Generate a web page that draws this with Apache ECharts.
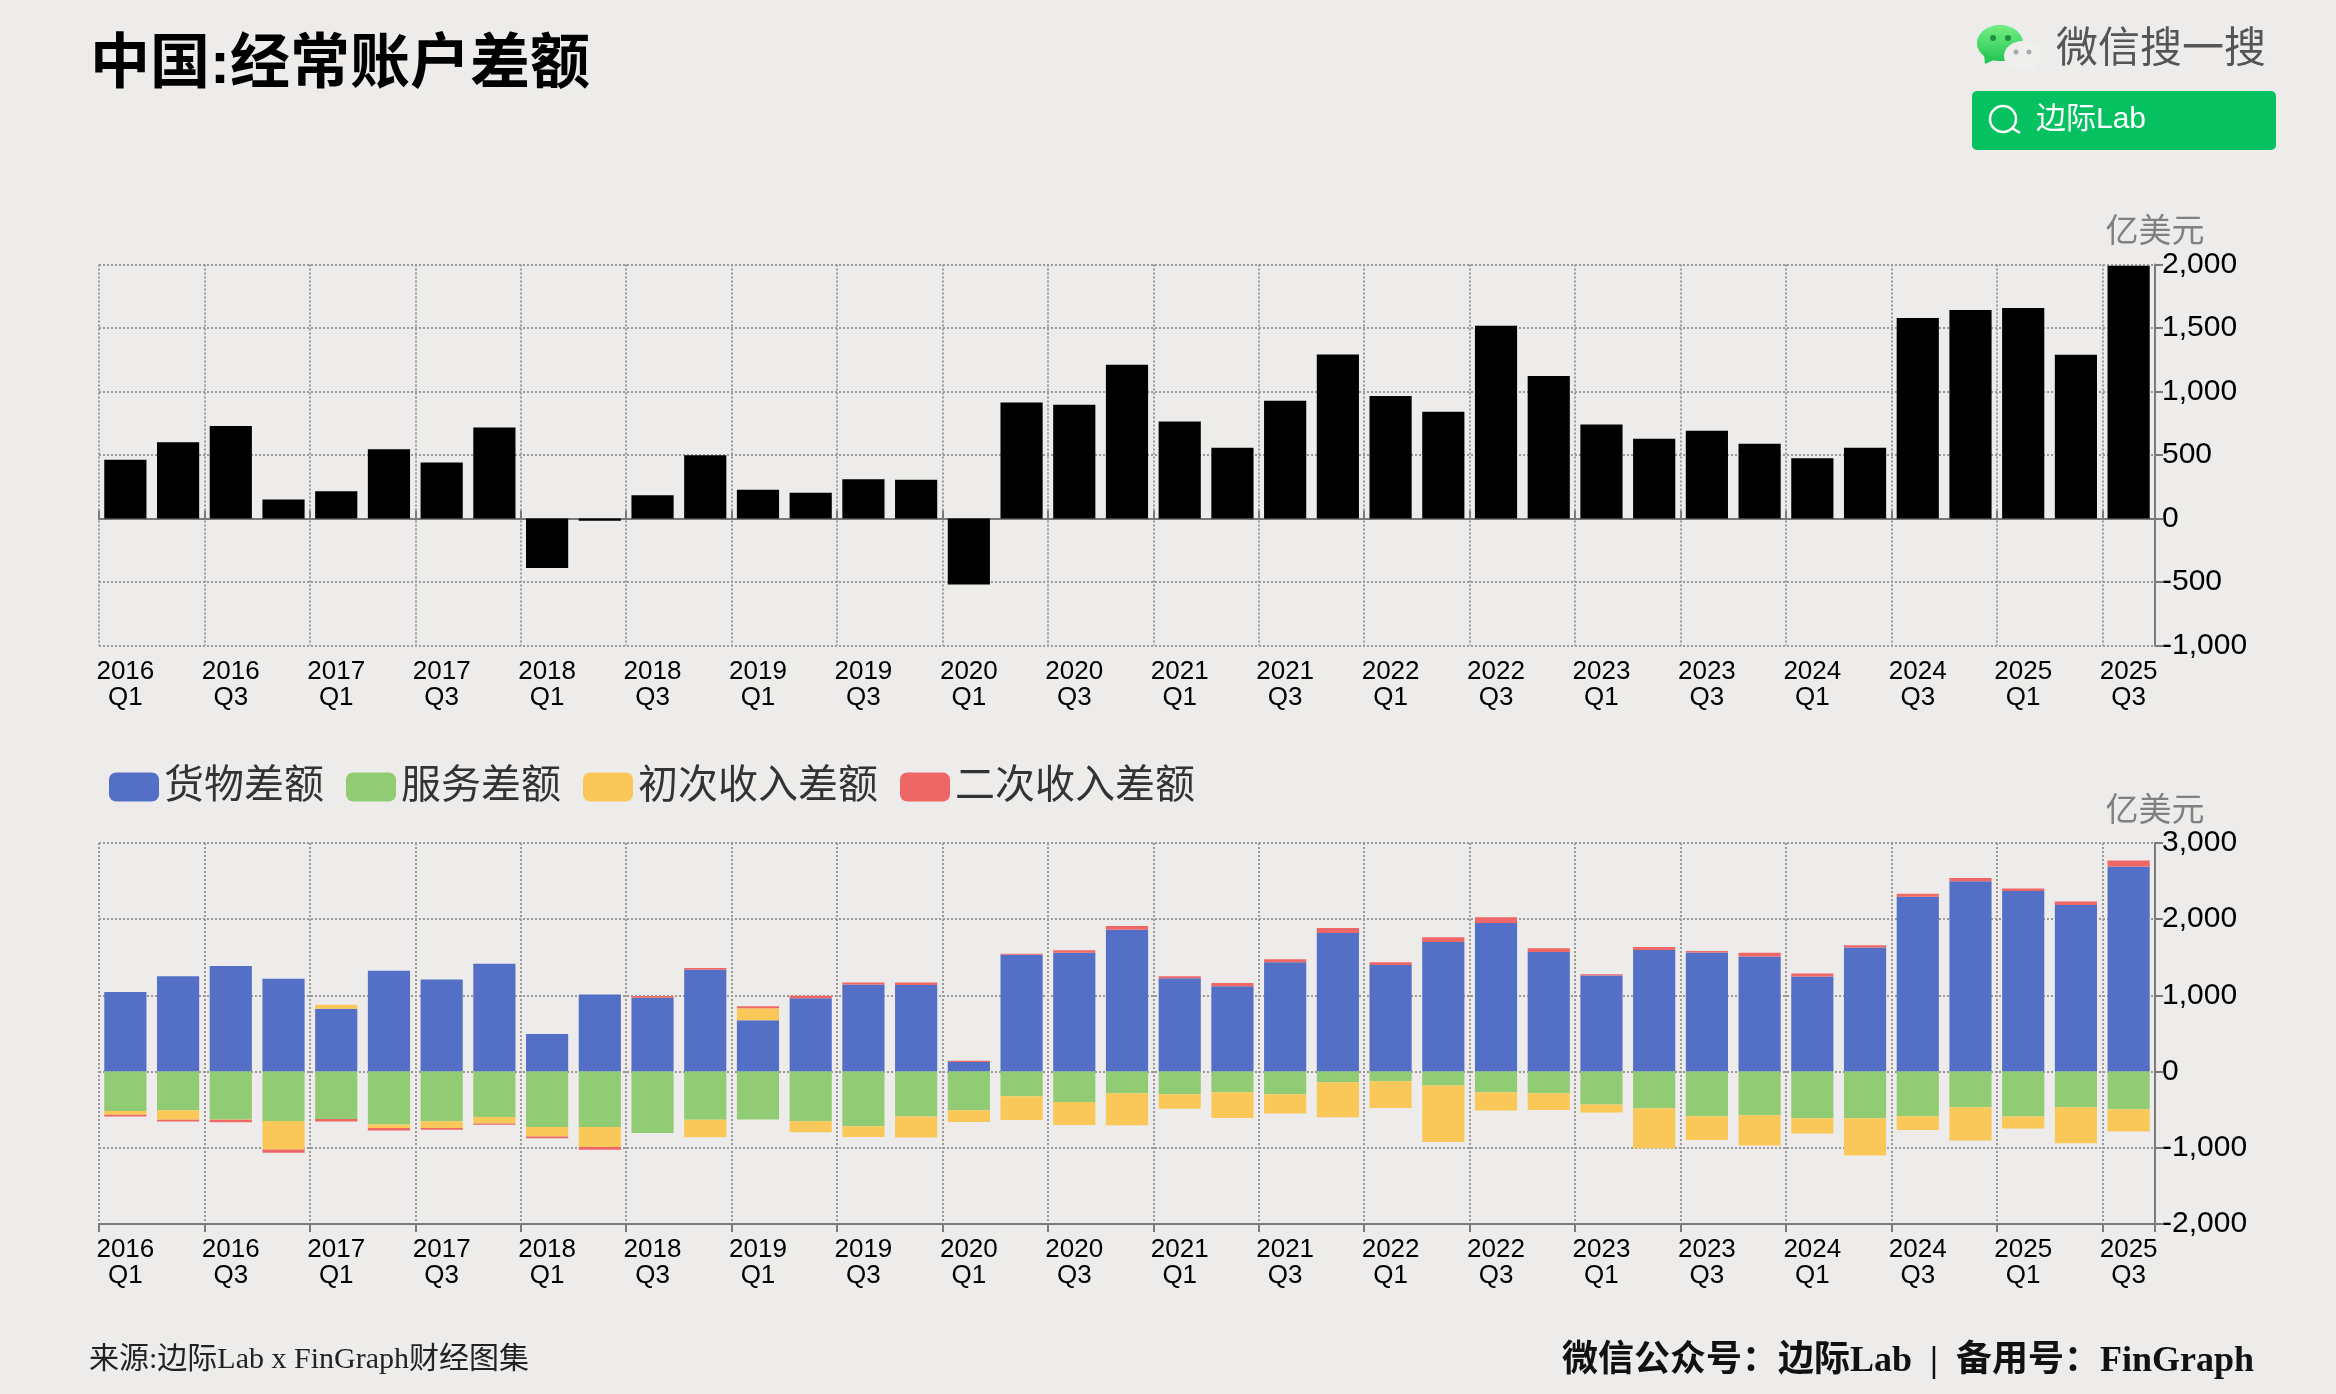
<!DOCTYPE html>
<html>
<head>
<meta charset="utf-8">
<style>
  html, body { margin: 0; padding: 0; background: #edecea; }
  #chart { width: 2336px; height: 1394px; }
</style>
<script src="https://cdn.jsdelivr.net/npm/echarts@6/dist/echarts.min.js"></script>
</head>
<body>
<div id="chart"></div>
<script>
// 季度
const quarters = [
  '2016\nQ1', '2016\nQ2', '2016\nQ3', '2016\nQ4',
  '2017\nQ1', '2017\nQ2', '2017\nQ3', '2017\nQ4',
  '2018\nQ1', '2018\nQ2', '2018\nQ3', '2018\nQ4',
  '2019\nQ1', '2019\nQ2', '2019\nQ3', '2019\nQ4',
  '2020\nQ1', '2020\nQ2', '2020\nQ3', '2020\nQ4',
  '2021\nQ1', '2021\nQ2', '2021\nQ3', '2021\nQ4',
  '2022\nQ1', '2022\nQ2', '2022\nQ3', '2022\nQ4',
  '2023\nQ1', '2023\nQ2', '2023\nQ3', '2023\nQ4',
  '2024\nQ1', '2024\nQ2', '2024\nQ3', '2024\nQ4',
  '2025\nQ1', '2025\nQ2', '2025\nQ3',
];

// 经常账户差额（亿美元）
const currentAccount = [
  462, 601, 728, 150, 215, 546, 441, 717,
  -389, -18, 184, 499, 226, 202, 310, 305,
  -520, 914, 896, 1211, 764, 557, 927, 1292,
  964, 841, 1518, 1122, 741, 628, 691, 588,
  475, 557, 1579, 1642, 1658, 1290, 1991,
];

const goods = [
  1045, 1251, 1387, 1219, 825, 1322, 1209, 1415,
  492, 1012, 970, 1336, 674, 962, 1142, 1137,
  127, 1535, 1561, 1863, 1225, 1120, 1435, 1820,
  1400, 1701, 1951, 1570, 1260, 1597, 1562, 1509,
  1247, 1627, 2296, 2498, 2371, 2187, 2690,
];

const services = [
  -516, -506, -628, -647, -623, -694, -651, -595,
  -726, -726, -806, -633, -630, -652, -717, -590,
  -507, -324, -398, -284, -297, -271, -297, -140,
  -127, -184, -271, -284, -433, -481, -586, -573,
  -612, -612, -586, -468, -590, -468, -494,
];

const primaryIncome = [
  -51, -127, -5, -375, 52, -46, -89, -85,
  -127, -263, 0, -230, 157, -144, -140, -276,
  -153, -311, -302, -420, -192, -337, -254, -459,
  -350, -739, -240, -219, -105, -525, -311, -398,
  -201, -490, -179, -437, -157, -472, -293,
];

const secondaryIncome = [
  -23, -23, -33, -42, -33, -33, -23, -19,
  -23, -37, 23, 23, 26, 35, 26, 31,
  17, 13, 31, 48, 26, 44, 39, 66,
  35, 61, 74, 48, 17, 39, 22, 52,
  39, 31, 39, 44, 31, 44, 79,
];

const legendNames = ['货物差额', '服务差额', '初次收入差额', '二次收入差额'];
const FONT = '"Liberation Sans", "Noto Sans CJK SC", sans-serif';
const SERIF = '"Liberation Serif", "Noto Sans CJK SC", serif';

const axisGray = '#7a7a7a';
const dotLine = { show: true, interval: 1, lineStyle: { type: 'dotted', color: '#999', width: 2 } };

function xLabelAxis(gridIndex, extra) {
  return Object.assign({
    type: 'category',
    gridIndex: gridIndex,
    data: quarters,
    axisLine: { show: true, onZero: false, lineStyle: { color: axisGray, width: 2 } },
    axisTick: { show: true, interval: 1, length: 8, lineStyle: { color: axisGray, width: 2 } },
    axisLabel: {
      interval: 1, color: '#000', fontSize: 26, lineHeight: 26, margin: 13,
      fontFamily: FONT,
    },
    splitLine: dotLine,
  }, extra);
}

function yValueAxis(gridIndex, min, max, interval) {
  return {
    type: 'value',
    gridIndex: gridIndex,
    position: 'right',
    min: min,
    max: max,
    interval: interval,
    name: '亿美元',
    nameLocation: 'end',
    nameGap: 14,
    nameTextStyle: { color: '#808080', fontSize: 33, fontFamily: FONT, align: 'center' },
    axisLine: { show: true, lineStyle: { color: axisGray, width: 2 } },
    axisTick: { show: true, length: 8, lineStyle: { color: axisGray, width: 2 } },
    axisLabel: { color: '#000', fontSize: 30, margin: 7, fontFamily: FONT },
    splitLine: { show: true, lineStyle: { type: 'dotted', color: '#999', width: 2 } },
  };
}

function stackBar(name, values, color) {
  return {
    name: name,
    type: 'bar',
    stack: 'total',
    xAxisIndex: 2,
    yAxisIndex: 1,
    barWidth: '80%',
    itemStyle: { color: color },
    data: values,
  };
}

const myChart = echarts.init(document.getElementById('chart'));
myChart.setOption({
  animation: false,
  backgroundColor: '#edecea',
  color: ['#5470c6', '#91cc75', '#fac858', '#ee6666'],
  title: {
    text: '中国:经常账户差额',
    left: 90,
    top: 36,
    padding: 0,
    textStyle: { color: '#000', fontSize: 60, fontWeight: 'bold', fontFamily: FONT },
  },
  legend: {
    data: legendNames,
    left: 104,
    top: 762,
    itemWidth: 50,
    itemHeight: 29,
    itemGap: 22,
    icon: 'roundRect',
    textStyle: { color: '#333', fontSize: 40, fontFamily: FONT },
  },
  grid: [
    { left: 99, right: 181, top: 264.5, height: 381 },
    { left: 99, right: 181, top: 843, height: 381 },
  ],
  xAxis: [
    // 上图：标签在底部，零轴单独一根
    xLabelAxis(0, { axisLine: { show: false, onZero: false }, axisTick: { show: false } }),
    xLabelAxis(0, {
      axisLine: { show: true, onZero: true, lineStyle: { color: axisGray, width: 2 } },
      axisLabel: { show: false },
      splitLine: { show: false },
    }),
    xLabelAxis(1),
  ],
  yAxis: [
    yValueAxis(0, -1000, 2000, 500),
    yValueAxis(1, -2000, 3000, 1000),
  ],
  series: [
    {
      name: '经常账户差额',
      type: 'bar',
      xAxisIndex: 0,
      yAxisIndex: 0,
      barWidth: '80%',
      itemStyle: { color: '#000' },
      data: currentAccount,
    },
    stackBar(legendNames[0], goods, '#5470c6'),
    stackBar(legendNames[1], services, '#91cc75'),
    stackBar(legendNames[2], primaryIncome, '#fac858'),
    stackBar(legendNames[3], secondaryIncome, '#ee6666'),
  ],
  graphic: [
    // 微信搜一搜
    { type: 'ellipse', shape: { cx: 2000, cy: 43, rx: 23, ry: 18 }, style: { fill: new echarts.graphic.LinearGradient(0, 0, 0, 1, [{ offset: 0, color: '#74ee84' }, { offset: 1, color: '#25c653' }]) } },
    { type: 'polygon', shape: { points: [[1984, 54], [1985, 64], [1996, 59]] }, style: { fill: '#25c653' } },
    { type: 'ellipse', shape: { cx: 2023, cy: 56, rx: 19, ry: 15 }, style: { fill: '#efefee' } },
    { type: 'polygon', shape: { points: [[2028, 66], [2036, 72], [2036, 62]] }, style: { fill: '#efefee' } },
    { type: 'circle', shape: { cx: 1993, cy: 38, r: 3 }, style: { fill: '#1f8f45' } },
    { type: 'circle', shape: { cx: 2008, cy: 38, r: 3 }, style: { fill: '#1f8f45' } },
    { type: 'circle', shape: { cx: 2016, cy: 52, r: 2.5 }, style: { fill: '#aaaaaa' } },
    { type: 'circle', shape: { cx: 2029, cy: 52, r: 2.5 }, style: { fill: '#aaaaaa' } },
    { type: 'text', style: { x: 2056, y: 50, text: '微信搜一搜', fill: '#555', font: '42px ' + FONT, textVerticalAlign: 'middle' } },
    { type: 'rect', shape: { x: 1972, y: 91, width: 304, height: 59, r: 5 }, style: { fill: '#06c160' } },
    { type: 'circle', shape: { cx: 2003, cy: 119, r: 13 }, style: { fill: 'none', stroke: '#fff', lineWidth: 2.5 } },
    { type: 'line', shape: { x1: 2012, y1: 128, x2: 2020, y2: 133 }, style: { stroke: '#fff', lineWidth: 2.5 } },
    { type: 'text', style: { x: 2036, y: 120, text: '边际Lab', fill: '#fff', font: '30px ' + FONT, textVerticalAlign: 'middle' } },
    // 页脚
    { type: 'text', style: { x: 89, y: 1360, text: '来源:边际Lab x FinGraph财经图集', fill: '#222', font: '30px ' + SERIF, textVerticalAlign: 'middle' } },
    { type: 'text', style: { x: 2254, y: 1362, text: '微信公众号：边际Lab  |  备用号：FinGraph', fill: '#111', font: 'bold 36px ' + SERIF, textAlign: 'right', textVerticalAlign: 'middle' } },
  ],
});
</script>
</body>
</html>
